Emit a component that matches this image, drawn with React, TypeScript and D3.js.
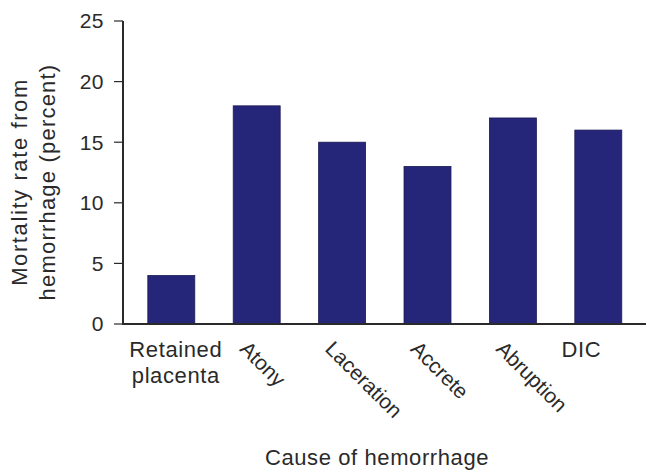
import React from "react";
import * as d3 from "d3";

const categories: string[][] = [
  ["Retained", "placenta"],
  ["Atony"],
  ["Laceration"],
  ["Accrete"],
  ["Abruption"],
  ["DIC"],
];
const values: number[] = [4, 18, 15, 13, 17, 16];
const yTicks: number[] = [0, 5, 10, 15, 20, 25];
const yTitle: string[] = ["Mortality rate from", "hemorrhage (percent)"];
const xTitle = "Cause of hemorrhage";
// label style: "h" horizontal, "r" rotated
const labelStyle: string[] = ["h", "r", "r", "r", "r", "h2"];

const W = 646;
const H = 472;
const FONT = "'Liberation Sans', Arial, Helvetica, sans-serif";
const BAR = "#25257a";
const INK = "#2a2a2a";

export default function App() {
  const axisX = 123;
  const y = d3.scaleLinear().domain([0, 25]).range([324, 21]);
  const x = d3
    .scaleBand<number>()
    .domain(d3.range(categories.length))
    .range([128.6, 641])
    .paddingInner(0.45)
    .paddingOuter(0.225);

  return (
    <svg
      width={W}
      height={H}
      style={{ position: "absolute", left: 0, top: 0, background: "#fff" }}
      fontFamily={FONT}
    >
      {/* bars */}
      {values.map((v, i) => (
        <rect
          key={i}
          x={x(i)!}
          y={y(v)}
          width={x.bandwidth()}
          height={y(0) - y(v)}
          fill={BAR}
          stroke="#1a1a55"
          strokeWidth={0.8}
        />
      ))}
      {/* axes */}
      <line x1={axisX} x2={axisX} y1={y(25)} y2={y(0) + 1} stroke={INK} strokeWidth={2} />
      <line x1={axisX - 1} x2={W} y1={y(0)} y2={y(0)} stroke={INK} strokeWidth={2} />
      {yTicks.map((t) => (
        <g key={t}>
          <line x1={axisX - 9} x2={axisX} y1={y(t)} y2={y(t)} stroke={INK} strokeWidth={1.2} />
          <text
            x={104}
            y={y(t)}
            dy="0.35em"
            textAnchor="end"
            fontSize={21}
            letterSpacing={0.5}
            fill={INK}
          >
            {t}
          </text>
        </g>
      ))}
      {/* y title */}
      <g transform={`translate(27,182) rotate(-90)`}>
        <text textAnchor="middle" fontSize={22} letterSpacing={1.6} fill={INK}>
          {yTitle[0]}
        </text>
        <text y={28} textAnchor="middle" fontSize={22} letterSpacing={1.2} fill={INK}>
          {yTitle[1]}
        </text>
      </g>
      {/* x labels */}
      {categories.map((lines, i) => {
        const cx = x(i)! + x.bandwidth() / 2;
        const st = labelStyle[i];
        if (st === "r") {
          return (
            <text
              key={i}
              transform={`translate(${cx - 18},350) rotate(45)`}
              fontSize={21}
              fill={INK}
            >
              {lines[0]}
            </text>
          );
        }
        const ox = st === "h2" ? -17 : 4.5;
        return (
          <text key={i} textAnchor="middle" fontSize={22} letterSpacing={0.6} fill={INK}>
            {lines.map((l, j) => (
              <tspan key={j} x={cx + ox} y={357 + j * 26}>
                {l}
              </tspan>
            ))}
          </text>
        );
      })}
      {/* x title */}
      <text x={377} y={465} textAnchor="middle" fontSize={22} letterSpacing={0.6} fill={INK}>
        {xTitle}
      </text>
    </svg>
  );
}
